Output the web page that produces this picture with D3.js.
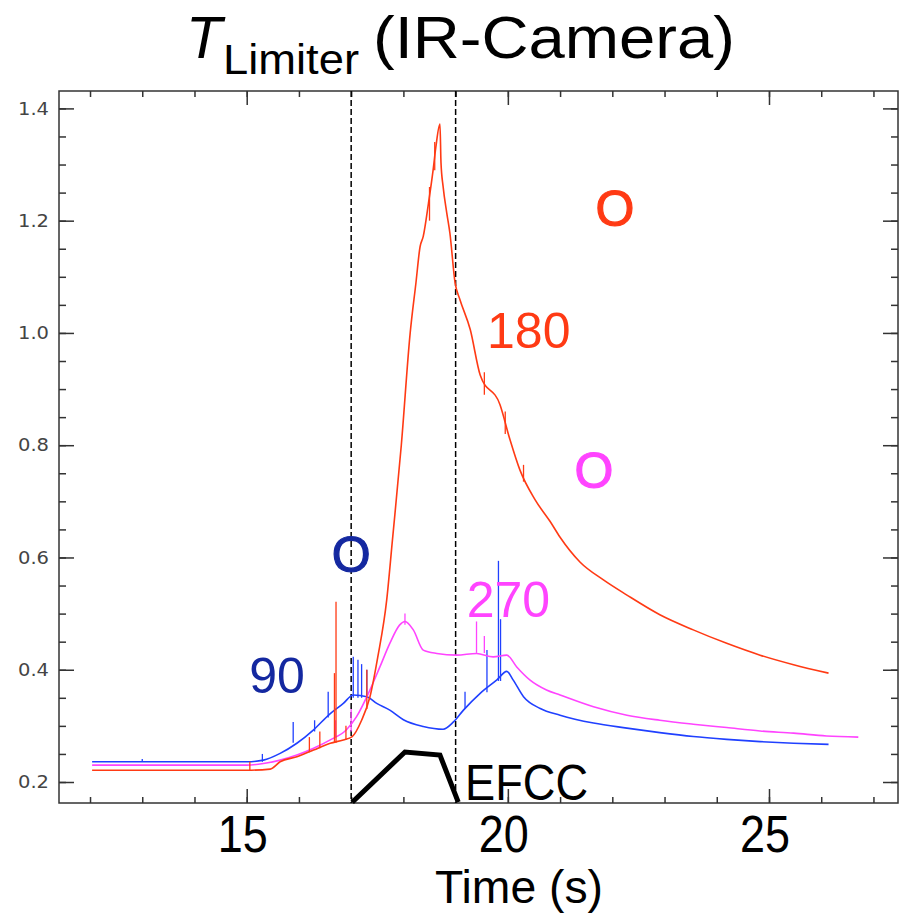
<!DOCTYPE html>
<html>
<head>
<meta charset="utf-8">
<script src="https://cdn.jsdelivr.net/npm/d3@7"></script>
<style>
  body { margin: 0; background: #fff; }
  svg { display: block; }
</style>
</head>
<body>
<div id="chart"></div>
<script>
// limiter temperature traces
// each series: [time (s), value]
var series180 = [
  [12.04, 0.221], [15.0, 0.221], [15.45, 0.223], [15.64, 0.236], [15.96, 0.245],
  [16.28, 0.257], [16.60, 0.269], [16.85, 0.275], [17.02, 0.281], [17.20, 0.31],
  [17.36, 0.352], [17.51, 0.423], [17.68, 0.524], [17.79, 0.631], [17.96, 0.80],
  [18.13, 1.00], [18.24, 1.089], [18.32, 1.154], [18.38, 1.172], [18.48, 1.231],
  [18.57, 1.291], [18.62, 1.33], [18.70, 1.372], [18.72, 1.303], [18.76, 1.261],
  [18.83, 1.214], [18.89, 1.178], [18.99, 1.089], [19.08, 1.06], [19.28, 1.006],
  [19.47, 0.925], [19.85, 0.872], [20.04, 0.81], [20.23, 0.756], [20.52, 0.703],
  [20.81, 0.664], [21.0, 0.636], [21.38, 0.592], [21.83, 0.560], [22.28, 0.533],
  [22.91, 0.498], [23.55, 0.471], [24.19, 0.447], [24.83, 0.426], [25.47, 0.409],
  [26.14, 0.394]
]
var series90 = [
  [12.04, 0.236], [15.0, 0.236], [15.32, 0.239], [15.64, 0.251], [15.96, 0.269],
  [16.28, 0.293], [16.60, 0.322], [16.85, 0.340], [17.04, 0.355], [17.30, 0.352],
  [17.49, 0.340], [17.74, 0.328], [18.0, 0.311], [18.38, 0.299], [18.76, 0.294],
  [18.96, 0.307], [19.15, 0.328], [19.47, 0.358], [19.79, 0.382], [19.98, 0.397],
  [20.10, 0.382], [20.30, 0.352], [20.62, 0.331], [21.0, 0.319], [21.64, 0.305],
  [22.28, 0.296], [22.91, 0.288], [23.55, 0.281], [24.19, 0.276], [24.83, 0.272],
  [25.47, 0.269], [26.14, 0.267]
]
var series270 = [
  [12.04, 0.230], [15.0, 0.230], [15.32, 0.233], [15.64, 0.239], [15.96, 0.248],
  [16.28, 0.26], [16.60, 0.275], [16.91, 0.293], [17.10, 0.316], [17.36, 0.364],
  [17.55, 0.405], [17.74, 0.447], [17.93, 0.48], [18.03, 0.486], [18.19, 0.471],
  [18.38, 0.435], [18.64, 0.429], [19.02, 0.426], [19.40, 0.429], [19.72, 0.423],
  [19.98, 0.426], [20.17, 0.405], [20.42, 0.382], [20.74, 0.364], [21.0, 0.355],
  [21.64, 0.334], [22.28, 0.319], [22.91, 0.31], [23.55, 0.303], [24.19, 0.297],
  [24.83, 0.291], [25.47, 0.287], [26.10, 0.282], [26.71, 0.280]
]

// noise spikes: [time, low, high]
var spikes180 = [
  [15.06, 0.221, 0.236], [16.2, 0.253, 0.28], [16.4, 0.26, 0.29], [16.68, 0.27, 0.394],
  [16.71, 0.27, 0.521], [16.9, 0.275, 0.30], [17.30, 0.33, 0.40], [18.5, 1.20, 1.26],
  [18.6, 1.29, 1.34], [19.55, 0.89, 0.93], [19.95, 0.82, 0.86], [20.3, 0.735, 0.765]
]
var spikes90 = [
  [13.0, 0.236, 0.241], [15.3, 0.236, 0.25], [15.89, 0.27, 0.307], [16.3, 0.29, 0.31],
  [16.56, 0.315, 0.361], [17.04, 0.35, 0.423], [17.13, 0.35, 0.418], [17.2, 0.35, 0.41],
  [17.30, 0.35, 0.40], [19.18, 0.33, 0.361], [19.60, 0.36, 0.435], [19.82, 0.38, 0.594],
  [19.86, 0.38, 0.49]
]
var spikes270 = [
  [16.7, 0.28, 0.31], [17.0, 0.29, 0.33], [18.03, 0.48, 0.50], [19.40, 0.43, 0.486],
  [19.55, 0.43, 0.46]
]

// EFCC waveform (scaled) and the two dashed time markers
var efcc = [[17.02, 0.164], [18.03, 0.2535], [18.70, 0.248], [19.05, 0.164]]
var markers = [17, 19]

// tick values
var xMajor = [15, 20, 25]
var xMinor = d3.range(12, 28, 1)
var yMajor = [0.2, 0.4, 0.6, 0.8, 1.0, 1.2, 1.4]
var yMinor = d3.range(0.2, 1.401, 0.05)

// text annotations in data coordinates (baseline)
var labels = [
  { text: 'O', t: 22.05, v: 1.191, color: '#ff3a14', ring: true },
  { text: '180', t: 20.40, v: 0.974, color: '#ff3a14' },
  { text: 'O', t: 21.65, v: 0.724, color: '#ff44ff', ring: true },
  { text: '270', t: 20.01, v: 0.494, color: '#ff44ff' },
  { text: 'O', t: 17.0, v: 0.574, color: '#1428a0', ring: true },
  { text: '90', t: 15.58, v: 0.359, color: '#1428a0' }
]

var W = 899
var H = 915
var frame = { left: 59, right: 898, top: 91, bottom: 803 }
var bigFont = "'Liberation Sans', Arial, sans-serif"

var svg = d3.select('#chart').append('svg')
  .attr('width', W)
  .attr('height', H)

var x = d3.scaleLinear().domain([11.406, 27.47]).range([frame.left, frame.right])
var y = d3.scaleLinear().domain([0.1626, 1.431]).range([frame.bottom, frame.top])

// title
var title = svg.append('g').attr('fill', '#000').attr('font-family', bigFont)
title.append('text')
  .attr('x', 186).attr('y', 58)
  .attr('font-size', 60).attr('font-style', 'italic')
  .attr('textLength', 36).attr('lengthAdjust', 'spacingAndGlyphs')
  .text('T')
title.append('text')
  .attr('x', 223).attr('y', 74)
  .attr('font-size', 42)
  .attr('textLength', 136).attr('lengthAdjust', 'spacingAndGlyphs')
  .text('Limiter')
title.append('text')
  .attr('x', 373).attr('y', 58)
  .attr('font-size', 60)
  .attr('textLength', 362).attr('lengthAdjust', 'spacingAndGlyphs')
  .text('(IR-Camera)')

// axes: ticks on all four sides, pointing inward
function drawAxis (axis, transform) {
  svg.append('g')
    .attr('transform', transform)
    .call(axis)
    .call(function (g) { g.select('.domain').remove() })
    .selectAll('line').attr('stroke', '#333').attr('stroke-width', 1.5)
}

drawAxis(d3.axisBottom(x).tickValues(xMinor).tickSize(-6).tickFormat(''),
  'translate(0,' + frame.bottom + ')')
drawAxis(d3.axisBottom(x).tickValues(xMajor).tickSize(-14).tickFormat(''),
  'translate(0,' + frame.bottom + ')')
drawAxis(d3.axisTop(x).tickValues(xMinor).tickSize(-6).tickFormat(''),
  'translate(0,' + frame.top + ')')
drawAxis(d3.axisTop(x).tickValues(xMajor).tickSize(-14).tickFormat(''),
  'translate(0,' + frame.top + ')')
drawAxis(d3.axisLeft(y).tickValues(yMinor).tickSize(-7).tickFormat(''),
  'translate(' + frame.left + ',0)')
drawAxis(d3.axisLeft(y).tickValues(yMajor).tickSize(-15).tickFormat(''),
  'translate(' + frame.left + ',0)')
drawAxis(d3.axisRight(y).tickValues(yMinor).tickSize(-7).tickFormat(''),
  'translate(' + frame.right + ',0)')
drawAxis(d3.axisRight(y).tickValues(yMajor).tickSize(-15).tickFormat(''),
  'translate(' + frame.right + ',0)')

// y tick labels: small grey
svg.append('g')
  .selectAll('text')
  .data(yMajor)
  .enter()
  .append('text')
  .attr('x', 49)
  .attr('y', function (d) { return y(d) })
  .attr('dy', '0.36em')
  .attr('text-anchor', 'end')
  .attr('font-family', "'DejaVu Sans', sans-serif")
  .attr('font-size', 17)
  .attr('textLength', 31).attr('lengthAdjust', 'spacingAndGlyphs')
  .attr('fill', '#444')
  .text(function (d) { return d.toFixed(1) })

// x tick labels: large black
svg.append('g')
  .selectAll('text')
  .data(xMajor)
  .enter()
  .append('text')
  .attr('x', function (d) { return x(d) - 4 })
  .attr('y', 852)
  .attr('text-anchor', 'middle')
  .attr('font-family', bigFont)
  .attr('font-size', 51)
  .attr('textLength', 50).attr('lengthAdjust', 'spacingAndGlyphs')
  .text(function (d) { return d })

svg.append('text')
  .attr('x', 435).attr('y', 903)
  .attr('font-family', bigFont)
  .attr('font-size', 46)
  .attr('textLength', 168).attr('lengthAdjust', 'spacingAndGlyphs')
  .text('Time (s)')

// frame
svg.append('rect')
  .attr('x', frame.left).attr('y', frame.top)
  .attr('width', frame.right - frame.left)
  .attr('height', frame.bottom - frame.top)
  .attr('fill', 'none')
  .attr('stroke', '#333')
  .attr('stroke-width', 1.5)

var plot = svg.append('g')

// dashed markers
plot.selectAll('line.marker')
  .data(markers)
  .enter()
  .append('line')
  .attr('class', 'marker')
  .attr('x1', function (d) { return x(d) })
  .attr('x2', function (d) { return x(d) })
  .attr('y1', frame.top)
  .attr('y2', frame.bottom)
  .attr('stroke', '#000')
  .attr('stroke-width', 1.5)
  .attr('stroke-dasharray', '6,3')

var line = d3.line()
  .x(function (d) { return x(d[0]) })
  .y(function (d) { return y(d[1]) })
var smoothLine = d3.line()
  .curve(d3.curveMonotoneX)
  .x(function (d) { return x(d[0]) })
  .y(function (d) { return y(d[1]) })

function drawTrace (data, spikes, color) {
  plot.append('path')
    .datum(data)
    .attr('fill', 'none')
    .attr('stroke', color)
    .attr('stroke-width', 1.6)
    .attr('stroke-linejoin', 'round')
    .attr('d', smoothLine)
  plot.append('g')
    .selectAll('line')
    .data(spikes)
    .enter()
    .append('line')
    .attr('x1', function (d) { return x(d[0]) })
    .attr('x2', function (d) { return x(d[0]) })
    .attr('y1', function (d) { return y(d[1]) })
    .attr('y2', function (d) { return y(d[2]) })
    .attr('stroke', color)
    .attr('stroke-width', 1.3)
}

drawTrace(series90, spikes90, '#2040ff')
drawTrace(series270, spikes270, '#ff44ff')
drawTrace(series180, spikes180, '#ff3a14')

// EFCC waveform
plot.append('path')
  .datum(efcc)
  .attr('fill', 'none')
  .attr('stroke', '#000')
  .attr('stroke-width', 5)
  .attr('d', line)

plot.append('text')
  .attr('x', x(19.18)).attr('y', 800)
  .attr('font-family', bigFont)
  .attr('font-size', 50)
  .attr('textLength', 123).attr('lengthAdjust', 'spacingAndGlyphs')
  .text('EFCC')

// annotations
plot.selectAll('text.label')
  .data(labels)
  .enter()
  .append('text')
  .attr('class', 'label')
  .attr('x', function (d) { return x(d.t) })
  .attr('y', function (d) { return y(d.v) })
  .attr('text-anchor', 'middle')
  .attr('font-family', bigFont)
  .attr('font-size', 50)
  .attr('fill', function (d) { return d.color })
  .attr('stroke', function (d) { return d.ring ? d.color : 'none' })
  .attr('stroke-width', 1.2)
  .text(function (d) { return d.text })
</script>
</body>
</html>
